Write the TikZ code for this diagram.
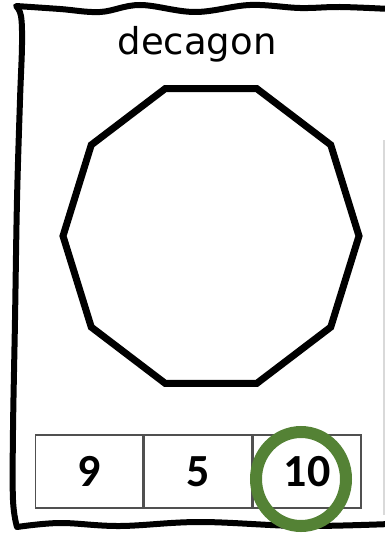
\documentclass[tikz,border=0pt]{standalone}
\usepackage{fontspec}
\setmainfont{Carlito}
\newfontfamily\titlefont{DejaVu Sans}
\usetikzlibrary{positioning}

\definecolor{ringgreen}{RGB}{84,130,53}
\definecolor{cellgray}{RGB}{80,80,80}

\tikzset{
  frame/.style={line width=6pt,line join=round,line cap=round},
  cellbox/.style={draw=cellgray,line width=1.3pt,minimum width=107.7pt,minimum height=73pt,
    inner sep=0pt,font=\fontsize{46}{48}\selectfont\bfseries},
  ring/.style={draw=ringgreen,line width=12pt}
}

\begin{document}
\begin{tikzpicture}[x=1pt,y=-1pt]
  \useasboundingbox (0,0) rectangle (385,535);
  % wobbly card edge
  \draw[frame] plot[smooth,tension=0.6] coordinates {(390,9) (340,7) (300,8) (250,5) (195,12) (140,5) (100,12) (60,9) (16,6)}
    -- plot[smooth,tension=0.6] coordinates {(16,6) (21,16) (22,45) (20,100) (17,200) (15,320) (13,430) (13,500) (17,527)}
    -- plot[smooth,tension=0.6] coordinates {(17,527) (60,523) (120,526) (200,522) (300,526) (390,524)};
  % next card, barely visible
  \draw[black!15,line width=1.5pt] (384,140) -- (384,515);
  \node[font=\titlefont\fontsize{37}{39}\selectfont,anchor=base] (title) at (197,55) {decagon};
  % the shape
  \draw[line width=7pt,line join=miter,shift={(211,236)}]
    (0:148 and 155) foreach \a in {36,72,...,324} { -- (\a:148 and 155) } -- cycle;
  % answer boxes
  \node[cellbox] (c1) at (89,471.5) {9};
  \node[cellbox,right=0pt of c1] (c2) {5};
  \node[cellbox,right=0pt of c2] (c3) {10};
  \coordinate (R) at (301,479);
  \draw[ring] (R) ellipse [x radius=45,y radius=47];
\end{tikzpicture}
\end{document}
